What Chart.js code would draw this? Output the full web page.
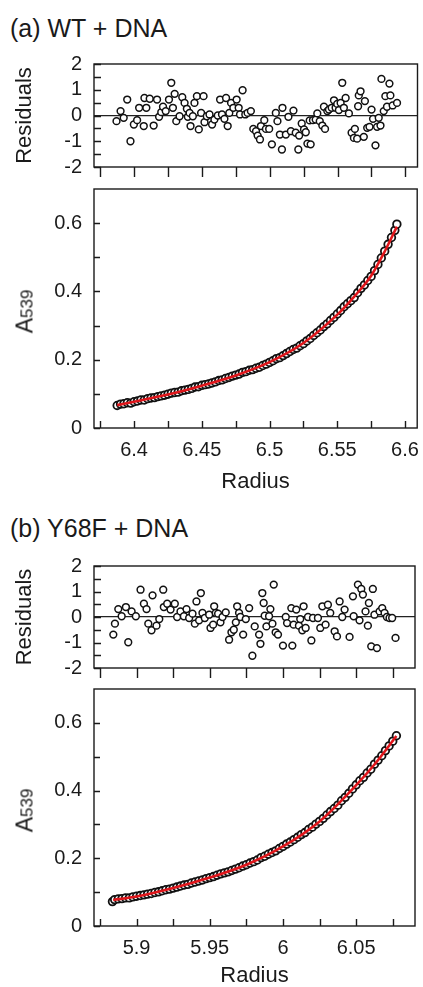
<!DOCTYPE html>
<html>
<head>
<meta charset="utf-8">
<title>Sedimentation equilibrium: WT and Y68F with DNA</title>
<script src="https://cdn.jsdelivr.net/npm/chart.js@4.4.1/dist/chart.umd.min.js"></script>
<style>
  html, body { margin: 0; padding: 0; background: #fff; }
  body { width: 423px; height: 987px; position: relative; overflow: hidden;
         font-family: 'Liberation Sans', Arial, Helvetica, sans-serif; color: #1a1a1a; }
  .box { position: absolute; left: 0; width: 423px; }
  .panel-title { position: absolute; left: 10px; font-size: 25px; line-height: 25px; white-space: nowrap; }
  .ylab { position: absolute; width: 70px; height: 21px; line-height: 21px; font-size: 23px;
          text-align: center; white-space: nowrap; transform: rotate(-90deg); }
  .ylab span { font-size: 17px; }
</style>
</head>
<body>
<div class="panel-title" style="top:16px">(a) WT + DNA</div>
<div class="box" style="top:40px;height:145px"><canvas id="resA"></canvas></div>
<div class="box" style="top:170px;height:323px"><canvas id="fitA"></canvas></div>
<div class="ylab" style="left:-10px;top:301px">A<span>539</span></div>

<div class="panel-title" style="top:516px">(b) Y68F + DNA</div>
<div class="box" style="top:540px;height:145px"><canvas id="resB"></canvas></div>
<div class="box" style="top:670px;height:317px"><canvas id="fitB"></canvas></div>
<div class="ylab" style="left:-10px;top:800px">A<span>539</span></div>

<script>
// ---- (a) WT + DNA ----
const radiusA = [6.3875, 6.39, 6.3925, 6.395, 6.3975, 6.4, 6.4025, 6.405, 6.4075, 6.41,
  6.4125, 6.415, 6.4175, 6.42, 6.4225, 6.425, 6.4275, 6.43, 6.4325, 6.435,
  6.4375, 6.44, 6.4425, 6.445, 6.4475, 6.45, 6.4525, 6.455, 6.4575, 6.46,
  6.4625, 6.465, 6.4675, 6.47, 6.4725, 6.475, 6.4775, 6.48, 6.4825, 6.485,
  6.4875, 6.49, 6.4925, 6.495, 6.4975, 6.5, 6.5025, 6.505, 6.5075, 6.51,
  6.5125, 6.515, 6.5175, 6.52, 6.5225, 6.525, 6.5275, 6.53, 6.5325, 6.535,
  6.5375, 6.54, 6.5425, 6.545, 6.5475, 6.55, 6.5525, 6.555, 6.5575, 6.56,
  6.5625, 6.565, 6.5675, 6.57, 6.5725, 6.575, 6.5775, 6.58, 6.5825, 6.585,
  6.5875, 6.59, 6.5925, 6.594];
const absA = [0.066, 0.070, 0.071, 0.074, 0.073, 0.077, 0.079, 0.082, 0.082, 0.086,
  0.088, 0.089, 0.092, 0.094, 0.096, 0.099, 0.102, 0.104, 0.105, 0.109,
  0.111, 0.113, 0.116, 0.120, 0.121, 0.125, 0.127, 0.129, 0.132, 0.135,
  0.139, 0.141, 0.145, 0.148, 0.152, 0.155, 0.158, 0.163, 0.165, 0.169,
  0.171, 0.175, 0.178, 0.183, 0.187, 0.192, 0.197, 0.203, 0.206, 0.212,
  0.218, 0.224, 0.230, 0.234, 0.241, 0.247, 0.255, 0.262, 0.271, 0.279,
  0.287, 0.297, 0.305, 0.315, 0.324, 0.334, 0.344, 0.355, 0.364, 0.373,
  0.382, 0.396, 0.409, 0.419, 0.432, 0.444, 0.461, 0.479, 0.498, 0.518,
  0.538, 0.558, 0.579, 0.597];
const fitRadiusA = [6.3875, 6.4, 6.425, 6.45, 6.475, 6.5, 6.525, 6.55, 6.5625, 6.575, 6.585, 6.594];
const fitAbsA = [0.067, 0.077, 0.098, 0.124, 0.154, 0.193, 0.249, 0.332, 0.385, 0.446, 0.517, 0.59];

const resRadiusA = [6.3870, 6.3900, 6.3923, 6.3949, 6.3973, 6.3998, 6.4022, 6.4037, 6.4071, 6.4076,
  6.4090, 6.4115, 6.4144, 6.4169, 6.4184, 6.4200, 6.4213, 6.4233, 6.4257, 6.4274,
  6.4286, 6.4299, 6.4311, 6.4335, 6.4355, 6.4372, 6.4389, 6.4396, 6.4409, 6.4416,
  6.4433, 6.4445, 6.4463, 6.4477, 6.4494, 6.4512, 6.4519, 6.4536, 6.4556, 6.4575,
  6.4592, 6.4617, 6.4634, 6.4648, 6.4666, 6.4678, 6.4690, 6.4702, 6.4715, 6.4732,
  6.4756, 6.4771, 6.4781, 6.4800, 6.4820, 6.4837, 6.4861, 6.4879, 6.4899, 6.4911,
  6.4928, 6.4935, 6.4960, 6.4972, 6.4996, 6.5016, 6.5045, 6.5057, 6.5075, 6.5090,
  6.5094, 6.5119, 6.5138, 6.5156, 6.5175, 6.5192, 6.5211, 6.5217, 6.5236, 6.5253,
  6.5266, 6.5278, 6.5295, 6.5302, 6.5319, 6.5339, 6.5351, 6.5369, 6.5388, 6.5400,
  6.5408, 6.5425, 6.5437, 6.5457, 6.5474, 6.5486, 6.5498, 6.5510, 6.5523, 6.5535,
  6.5547, 6.5560, 6.5584, 6.5604, 6.5621, 6.5628, 6.5645, 6.5652, 6.5657, 6.5670,
  6.5694, 6.5702, 6.5719, 6.5736, 6.5751, 6.5762, 6.5780, 6.5792, 6.5804, 6.5817,
  6.5824, 6.5841, 6.5853, 6.5865, 6.5883, 6.5890, 6.5907, 6.5939];
const resValueA = [-0.22, 0.17, -0.09, 0.62, -1.00, -0.35, -0.18, 0.30, -0.41, 0.68,
  0.30, 0.65, -0.39, 0.62, -0.05, 0.13, 0.34, 0.17, 0.62, 1.27,
  0.30, 0.84, -0.22, -0.03, 0.71, 0.49, 0.26, -0.05, 0.10, -0.41,
  -0.03, 0.49, 0.75, -0.54, 0.10, 0.75, -0.26, -0.03, 0.04, -0.35,
  -0.16, 0.00, 0.62, 0.04, -0.13, 0.68, -0.41, 0.10, 0.49, 0.30,
  0.62, 0.30, 0.04, 0.98, 0.04, 0.10, 0.17, -0.52, -0.61, -0.78,
  -0.93, -0.41, -0.18, -0.52, -0.52, -1.12, 0.10, -0.22, -0.74, -1.32,
  0.30, -0.74, -0.05, -0.61, 0.19, -0.67, -1.32, -0.78, -0.31, -0.54,
  -0.65, -1.09, -0.19, -1.12, -0.18, -0.16, 0.08, -0.22, -0.39, 0.34,
  -0.52, 0.17, 0.23, 0.30, 0.59, 0.30, 0.45, 0.21, 0.49, 1.27,
  0.30, 0.68, 0.08, -0.67, -0.87, -0.52, -0.90, 0.36, 0.78, 0.94,
  -0.83, 0.56, -0.48, -0.44, 0.23, -0.13, -1.16, -0.44, -0.09, -0.39,
  1.42, 0.17, 0.75, 0.34, 1.24, 0.78, 0.39, 0.49];

const radiusTicksA = [6.375, 6.4, 6.425, 6.45, 6.475, 6.5, 6.525, 6.55, 6.575, 6.6];
const radiusLabelsA = [6.4, 6.45, 6.5, 6.55, 6.6];

// ---- (b) Y68F + DNA ----
const radiusB = [5.8835, 5.885, 5.8875, 5.89, 5.8925, 5.895, 5.8975, 5.9, 5.9025, 5.905,
  5.9075, 5.91, 5.9125, 5.915, 5.9175, 5.92, 5.9225, 5.925, 5.9275, 5.93,
  5.9325, 5.935, 5.9375, 5.94, 5.9425, 5.945, 5.9475, 5.95, 5.9525, 5.955,
  5.9575, 5.96, 5.9625, 5.965, 5.9675, 5.97, 5.9725, 5.975, 5.9775, 5.98,
  5.9825, 5.985, 5.9875, 5.99, 5.9925, 5.995, 5.9975, 6.0, 6.0025, 6.005,
  6.0075, 6.01, 6.0125, 6.015, 6.0175, 6.02, 6.0225, 6.025, 6.0275, 6.03,
  6.0325, 6.035, 6.0375, 6.04, 6.0425, 6.045, 6.0475, 6.05, 6.0525, 6.055,
  6.0575, 6.06, 6.0625, 6.065, 6.0675, 6.07, 6.0725, 6.075, 6.0775];
const absB = [0.072, 0.078, 0.080, 0.081, 0.083, 0.083, 0.086, 0.088, 0.090, 0.092,
  0.094, 0.096, 0.099, 0.101, 0.104, 0.107, 0.109, 0.112, 0.115, 0.118,
  0.121, 0.123, 0.127, 0.130, 0.133, 0.136, 0.140, 0.143, 0.146, 0.150,
  0.154, 0.157, 0.160, 0.164, 0.168, 0.172, 0.177, 0.181, 0.186, 0.190,
  0.195, 0.202, 0.206, 0.212, 0.217, 0.222, 0.229, 0.235, 0.242, 0.248,
  0.255, 0.262, 0.270, 0.276, 0.285, 0.292, 0.301, 0.309, 0.318, 0.328,
  0.338, 0.347, 0.357, 0.370, 0.380, 0.392, 0.405, 0.417, 0.429, 0.439,
  0.452, 0.463, 0.478, 0.490, 0.503, 0.518, 0.532, 0.546, 0.562];
const fitRadiusB = [5.884, 5.9, 5.925, 5.95, 5.975, 6.0, 6.025, 6.05, 6.0625, 6.0775];
const fitAbsB = [0.077, 0.087, 0.112, 0.143, 0.181, 0.235, 0.309, 0.416, 0.477, 0.561];

const resRadiusB = [5.8841, 5.8852, 5.8875, 5.8898, 5.8927, 5.8943, 5.8966, 5.8995, 5.9027, 5.9050,
  5.9068, 5.9080, 5.9102, 5.9109, 5.9136, 5.9155, 5.9182, 5.9186, 5.9209, 5.9232,
  5.9261, 5.9277, 5.9300, 5.9323, 5.9341, 5.9359, 5.9382, 5.9398, 5.9409, 5.9427,
  5.9439, 5.9450, 5.9466, 5.9496, 5.9505, 5.9523, 5.9530, 5.9541, 5.9557, 5.9573,
  5.9587, 5.9609, 5.9632, 5.9648, 5.9664, 5.9678, 5.9687, 5.9700, 5.9709, 5.9728,
  5.9746, 5.9769, 5.9791, 5.9807, 5.9837, 5.9846, 5.9859, 5.9868, 5.9875, 5.9887,
  5.9905, 5.9914, 5.9928, 5.9937, 5.9950, 5.9966, 6.0000, 6.0019, 6.0028, 6.0057,
  6.0064, 6.0073, 6.0091, 6.0109, 6.0118, 6.0132, 6.0141, 6.0155, 6.0171, 6.0194,
  6.0205, 6.0239, 6.0255, 6.0269, 6.0291, 6.0307, 6.0323, 6.0353, 6.0369, 6.0387,
  6.0405, 6.0421, 6.0455, 6.0478, 6.0483, 6.0512, 6.0523, 6.0535, 6.0546, 6.0564,
  6.0580, 6.0587, 6.0603, 6.0614, 6.0625, 6.0642, 6.0660, 6.0678, 6.0694, 6.0710,
  6.0728, 6.0746, 6.0769];
const resValueB = [-0.69, -0.26, 0.31, 0.03, 0.39, -0.99, 0.22, 0.03, 1.07, 0.52,
  0.31, -0.26, -0.52, 0.85, -0.34, -0.08, 1.07, 0.39, 0.52, 0.29,
  0.52, 0.00, 0.22, 0.03, 0.31, -0.04, 0.13, -0.26, 0.61, -0.13,
  0.94, 0.16, -0.04, 0.09, -0.43, -0.30, 0.42, 0.16, 0.13, -0.21,
  0.00, 0.18, -0.89, -0.60, -0.50, -0.21, 0.42, 0.16, 0.00, -0.69,
  -0.08, 0.35, -1.52, -0.37, -0.69, -1.05, 0.94, 0.55, 0.05, -0.37,
  0.03, 0.31, -0.26, 1.27, -0.60, -0.69, -1.12, 0.00, -0.24, 0.35,
  -1.12, -0.30, 0.29, -0.34, -0.08, -0.52, 0.42, -0.43, 0.00, -0.92,
  -0.04, -0.04, -0.43, 0.42, -0.30, 0.48, 0.16, -0.56, -0.76, 0.61,
  0.00, 0.29, -0.78, 0.81, 0.03, 1.27, -0.13, 1.10, 0.88, 0.22,
  -0.34, 0.55, -1.15, 1.10, 0.09, -1.22, 0.22, 0.35, 0.16, 0.00,
  -0.04, -0.04, -0.82];

const radiusTicksB = [5.875, 5.9, 5.925, 5.95, 5.975, 6.0, 6.025, 6.05, 6.075];
const radiusLabelsB = [5.9, 5.95, 6.0, 6.05];

// shared y ticks
const absTicks = [0, 0.1, 0.2, 0.3, 0.4, 0.5, 0.6];
const absLabels = [0, 0.2, 0.4, 0.6];
const resTicks = [-2, -1.5, -1, -0.5, 0, 0.5, 1, 1.5, 2];
const resLabels = [-2, -1, 0, 1, 2];

const ink = '#1a1a1a';
const fontFamily = "'Liberation Sans', Arial, Helvetica, sans-serif";

// Box round the plot area, plus tick marks drawn by hand so they can point inwards
const boxTicks = {
  id: 'boxTicks',
  afterDraw(chart, args, opts) {
    const { ctx, chartArea: a, scales } = chart;
    ctx.save();
    ctx.strokeStyle = ink;
    ctx.lineWidth = 1.4;
    ctx.strokeRect(a.left, a.top, a.right - a.left, a.bottom - a.top);
    ctx.beginPath();
    scales.y.ticks.forEach(t => {
      const py = Math.round(scales.y.getPixelForValue(t.value)) + 0.5;
      ctx.moveTo(a.left, py);
      ctx.lineTo(a.left + opts.yLen, py);
    });
    scales.x.ticks.forEach(t => {
      const px = Math.round(scales.x.getPixelForValue(t.value)) + 0.5;
      ctx.moveTo(px, a.bottom);
      ctx.lineTo(px, a.bottom + opts.xLen);
    });
    ctx.stroke();
    ctx.restore();
  }
};

function pairs(xs, ys) {
  return xs.map((x, i) => ({ x: x, y: ys[i] }));
}

function fixedTicks(values) {
  return scale => { scale.ticks = values.map(v => ({ value: v })); };
}

function labelOnly(values) {
  return v => values.includes(v) ? String(v) : '';
}

// keep the plot area where it is: no extra room for half-labels at the ends
function fixWidth(w) {
  return s => { s.width = w; s.paddingTop = 0; s.paddingBottom = 0; };
}
function fixHeight(h) {
  return s => { s.height = h; s.paddingLeft = 0; s.paddingRight = 0; };
}

function pointSet(data, r, bw) {
  return {
    data: data,
    pointRadius: r,
    pointBorderWidth: bw,
    borderColor: '#111',
    backgroundColor: '#fff',
    order: 1
  };
}

function residualChart(id, xs, ys, xmin, xmax, xTicks, padTop, padRight, xHeight) {
  return new Chart(document.getElementById(id), {
    type: 'scatter',
    data: { datasets: [pointSet(pairs(xs, ys), 3.4, 1.5)] },
    options: {
      responsive: true,
      maintainAspectRatio: false,
      animation: false,
      events: [],
      layout: { padding: { top: padTop, right: padRight, left: 0, bottom: 0 } },
      plugins: { legend: { display: false }, tooltip: { enabled: false },
                 boxTicks: { xLen: 10, yLen: 7 } },
      scales: {
        x: {
          type: 'linear', min: xmin, max: xmax,
          afterBuildTicks: fixedTicks(xTicks),
          afterFit: fixHeight(xHeight),
          grid: { display: false, drawTicks: false },
          border: { display: false },
          ticks: { display: false, autoSkip: false }
        },
        y: {
          min: -2, max: 2,
          afterBuildTicks: fixedTicks(resTicks),
          afterFit: fixWidth(94),
          grid: {
            drawTicks: false,
            lineWidth: 1.3,
            color: c => c.tick && c.tick.value === 0 ? '#222' : 'rgba(0,0,0,0)'
          },
          border: { display: false },
          ticks: { padding: 12, color: ink, autoSkip: false,
                   font: { family: fontFamily, size: 20 }, callback: labelOnly(resLabels) },
          title: { display: true, text: 'Residuals', color: ink,
                   font: { family: fontFamily, size: 22, lineHeight: 1 }, padding: { top: 14, bottom: 0 } }
        }
      }
    },
    plugins: [boxTicks]
  });
}

function fitChart(id, xs, ys, fx, fy, xmin, xmax, xTicks, xLabels, padTop, padRight, xHeight) {
  return new Chart(document.getElementById(id), {
    type: 'scatter',
    data: {
      datasets: [
        {
          data: pairs(fx, fy),
          showLine: true,
          pointRadius: 0,
          borderColor: '#e0161b',
          borderWidth: 2.6,
          cubicInterpolationMode: 'monotone',
          order: 0
        },
        pointSet(pairs(xs, ys), 3.8, 1.8)
      ]
    },
    options: {
      responsive: true,
      maintainAspectRatio: false,
      animation: false,
      events: [],
      layout: { padding: { top: padTop, right: padRight, left: 0, bottom: 0 } },
      plugins: { legend: { display: false }, tooltip: { enabled: false },
                 boxTicks: { xLen: -7, yLen: 6 } },
      scales: {
        x: {
          type: 'linear', min: xmin, max: xmax,
          afterBuildTicks: fixedTicks(xTicks),
          afterFit: fixHeight(xHeight),
          grid: { display: false, drawTicks: false },
          border: { display: false },
          ticks: { padding: 10, color: ink, autoSkip: false, maxRotation: 0,
                   font: { family: fontFamily, size: 20 }, callback: labelOnly(xLabels) },
          title: { display: true, text: 'Radius', color: ink,
                   font: { family: fontFamily, size: 22, lineHeight: 1 }, padding: { top: 0, bottom: 0 } }
        },
        y: {
          min: 0, max: 0.7,
          afterBuildTicks: fixedTicks(absTicks),
          afterFit: fixWidth(94),
          grid: { display: false, drawTicks: false },
          border: { display: false },
          ticks: { padding: 12, color: ink, autoSkip: false,
                   font: { family: fontFamily, size: 20 }, callback: labelOnly(absLabels) }
        }
      }
    },
    plugins: [boxTicks]
  });
}

residualChart('resA', resRadiusA, resValueA, 6.3704, 6.609, radiusTicksA, 24, 4, 18);
fitChart('fitA', radiusA, absA, fitRadiusA, fitAbsA, 6.3704, 6.609, radiusTicksA, radiusLabelsA, 19, 4, 65);
residualChart('resB', resRadiusB, resValueB, 5.8709, 6.0902, radiusTicksB, 26, 8, 17);
fitChart('fitB', radiusB, absB, fitRadiusB, fitAbsB, 5.8709, 6.0902, radiusTicksB, radiusLabelsB, 19, 8, 61);
</script>
</body>
</html>
